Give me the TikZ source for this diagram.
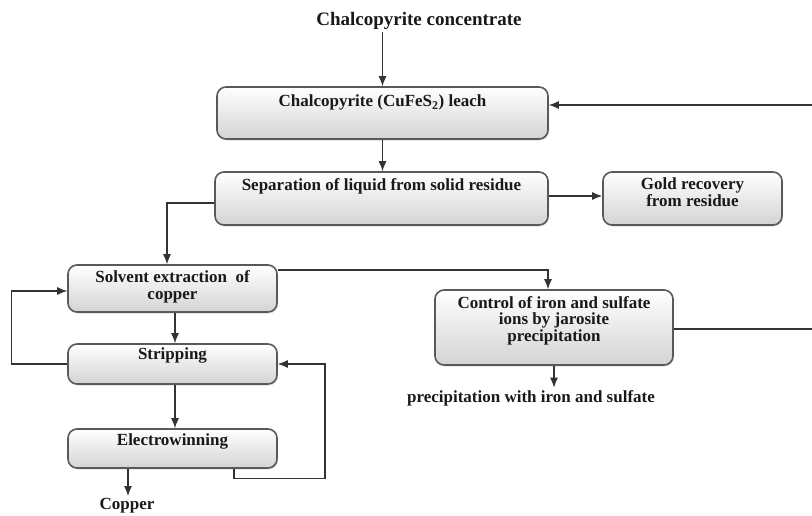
\documentclass[tikz,border=0pt]{standalone}
\usepackage{fontspec}
\setmainfont{Liberation Serif}
\usetikzlibrary{shapes}
\usetikzlibrary{arrows.meta}
\usetikzlibrary{shadows}
\newcommand{\lowstrut}[1]{\rule[-#1pt]{0pt}{#1pt}}

\begin{document}
\begin{tikzpicture}[x=1pt,y=-1pt,line width=1.1pt,black!80]
\tikzstyle{block} = [rectangle, draw=black!65, line width=1.6pt, rounded corners=9pt,
top color=white, bottom color=black!17, align=center, inner sep=0pt, text=black!90,
font=\fontsize{17}{16.5}\selectfont\bfseries,
drop shadow={shadow xshift=1pt, shadow yshift=-1.5pt, opacity=0.25}]
\tikzstyle{plain} = [inner sep=2pt, text=black!90, font=\fontsize{17}{20}\selectfont\bfseries]
\tikzstyle{flow} = [draw, line width=1.2pt, -{Latex[length=10pt,width=8pt]}]
\useasboundingbox (0,0) rectangle (812,515);
\clip (0,0) rectangle (812,515);
% feed
\node [plain, font=\fontsize{19}{22}\selectfont\bfseries] (feed) at (419,20.5) {Chalcopyrite concentrate};
% row 1
\node [block, minimum width=331pt, minimum height=52pt] (leach) at (382.5,113) {Chalcopyrite (CuFeS\textsubscript{2}) leach\lowstrut{24}};
% row 2
\node [block, minimum width=333pt, minimum height=53pt] (sep) at (381.5,198.5) {Separation of liquid from solid residue\lowstrut{27}};
\node [block, minimum width=179pt, minimum height=53pt] (gold) at (692.5,198.5) {Gold recovery\\from residue\lowstrut{13}};
% left column
\node [block, minimum width=209pt, minimum height=47pt] (solvent) at (172.5,288.5) {Solvent extraction\ \ of\\copper\lowstrut{7}};
\node [block, minimum width=209pt, minimum height=40pt] (strip) at (172.5,364) {Stripping\lowstrut{20}};
\node [block, minimum width=209pt, minimum height=39pt] (electro) at (172.5,448.5) {Electrowinning\lowstrut{17}};
\node [plain] (copper) at (127,506) {Copper};
% right column
\node [block, minimum width=238pt, minimum height=75pt] (control) at (554,327.5) {Control of iron and sulfate\\ions by jarosite\\precipitation\lowstrut{17}};
\node [plain] (precip) at (531,398) {precipitation with iron and sulfate};

\draw[flow] (feed.south -| leach.north) -- (leach.north);
\draw[flow] (leach.south) -- (leach.south |- sep.north);
\draw[flow] ([yshift=2.5pt]sep.east) -- ([yshift=2.5pt]gold.west);
\draw[flow] ([yshift=-4.5pt]sep.west) -| ([xshift=-5.5pt]solvent.north);
\draw[flow] ([yshift=18.5pt]solvent.east) -| ([xshift=-6pt]control.north);
\draw[flow] ([xshift=2.5pt]solvent.south) -- ([xshift=2.5pt]strip.north);
\draw[flow] ([xshift=2.5pt]strip.south) -- ([xshift=2.5pt]electro.north);
\draw[flow] (strip.west) -- ++(-56,0) |- ([yshift=-2.5pt]solvent.west);
\draw[flow] ([xshift=61.5pt]electro.south) -- ++(0,10) -- ++(91,0) |- (strip.east);
\draw[flow] ([xshift=-44.5pt]electro.south) -- ([xshift=-44.5pt]electro.south |- copper.north);
\draw[flow] (control.south) -- (control.south |- precip.north);
% recycle to the leach, runs off the right edge
\draw[flow] ([yshift=-1.5pt]control.east) -- ++(160,0) |- ([yshift=8pt]leach.east);
\end{tikzpicture}
\end{document}
